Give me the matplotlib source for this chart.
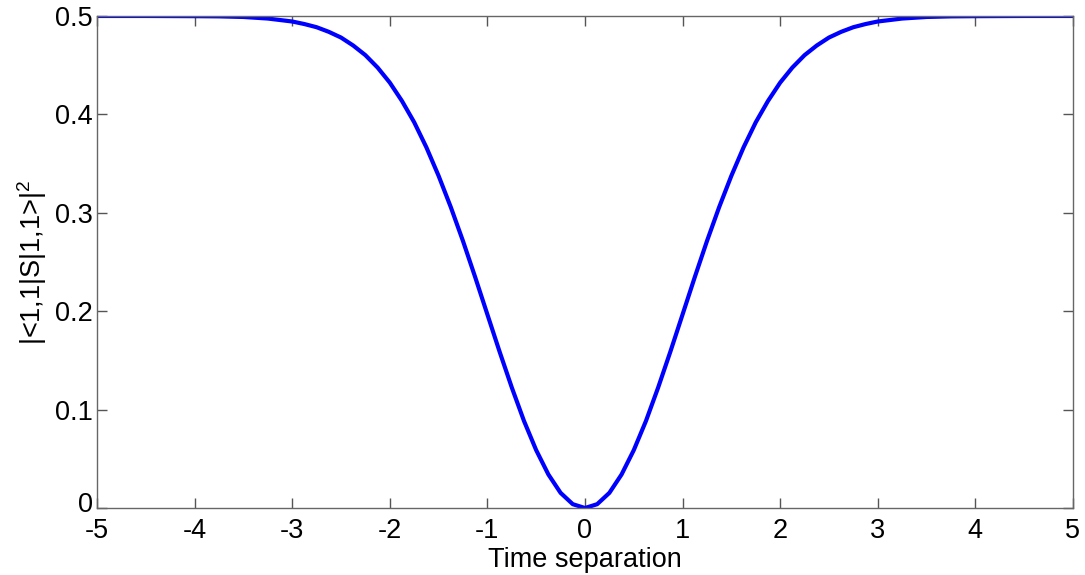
import matplotlib
matplotlib.use('Agg')
import matplotlib.pyplot as plt
import matplotlib.transforms as mtransforms

plt.rcParams['font.family'] = ['Liberation Sans', 'DejaVu Sans']
plt.rcParams['axes.unicode_minus'] = False
plt.rcParams['mathtext.fontset'] = 'custom'
plt.rcParams['mathtext.rm'] = 'Liberation Sans'

# Coincidence probability against time separation
t_sep = [-5.0, -4.5, -4.0, -3.75, -3.5, -3.25, -3.0, -2.875, -2.75, -2.625,
         -2.5, -2.375, -2.25, -2.125, -2.0, -1.875, -1.75, -1.625, -1.5,
         -1.375, -1.25, -1.125, -1.0, -0.875, -0.75, -0.625, -0.5, -0.375,
         -0.25, -0.125, 0.0, 0.125, 0.25, 0.375, 0.5, 0.625, 0.75, 0.875,
         1.0, 1.125, 1.25, 1.375, 1.5, 1.625, 1.75, 1.875, 2.0, 2.125, 2.25,
         2.375, 2.5, 2.625, 2.75, 2.875, 3.0, 3.25, 3.5, 3.75, 4.0, 4.5, 5.0]
prob = [0.500, 0.500, 0.4998, 0.4996, 0.499, 0.4974, 0.4944, 0.4918, 0.4886,
        0.4839, 0.4781, 0.4700, 0.4602, 0.4476, 0.4323, 0.4136, 0.3920,
        0.3665, 0.3376, 0.3058, 0.2713, 0.2346, 0.1967, 0.1589, 0.1225,
        0.0885, 0.0588, 0.0341, 0.0154, 0.0039, 0.0, 0.0039, 0.0154, 0.0341,
        0.0588, 0.0885, 0.1225, 0.1589, 0.1967, 0.2346, 0.2713, 0.3058,
        0.3376, 0.3665, 0.3920, 0.4136, 0.4323, 0.4476, 0.4602, 0.4700,
        0.4781, 0.4839, 0.4886, 0.4918, 0.4944, 0.4974, 0.499, 0.4996,
        0.4998, 0.500, 0.500]

x_ticks = [-5, -4, -3, -2, -1, 0, 1, 2, 3, 4, 5]
y_ticks = [0, 0.1, 0.2, 0.3, 0.4, 0.5]

fig = plt.figure(figsize=(10.85, 5.75), dpi=100)
ax = fig.add_axes([0.0894, 0.1165, 0.8995, 0.8557])

ax.plot(t_sep, prob, color='#0000ff', linewidth=3, solid_capstyle='butt')

ax.set_xlim(-5, 5)
ax.set_ylim(0, 0.5)
ax.set_xticks(x_ticks)
ax.set_xticklabels([str(v) for v in x_ticks])
ax.set_yticks(y_ticks)
ax.set_yticklabels(['0', '0.1', '0.2', '0.3', '0.4', '0.5'])

ax.tick_params(direction='in', length=7, width=1, color='#555555',
               top=True, right=True, labelsize=19.5)
ax.tick_params(axis='x', pad=7)
ax.tick_params(axis='y', pad=3)
for s in ax.spines.values():
    s.set_color('#666666')
    s.set_linewidth(1)

# nudge the bottom y label up so it clears the -5 below it
zero_lbl = ax.get_yticklabels()[0]
zero_lbl.set_transform(zero_lbl.get_transform() +
                       mtransforms.ScaledTranslation(0, 4 / 72, fig.dpi_scale_trans))

ax.set_xlabel('Time separation', fontsize=19.5, labelpad=2)
ax.set_ylabel(r'|<1,1|S|1,1>|$^2$', fontsize=19.5, labelpad=4)

fig.savefig('out.png', dpi=100)
